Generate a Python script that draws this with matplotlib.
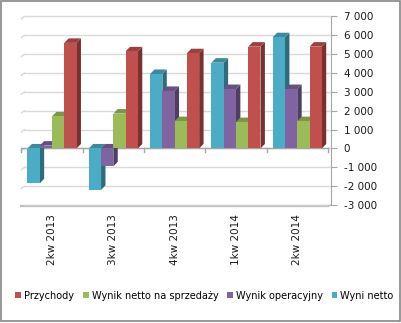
import numpy as np
import matplotlib.pyplot as plt
from matplotlib.patches import Polygon, Patch, Rectangle
from matplotlib.colors import to_rgb

# quarterly results
quarters = ["2kw 2013", "3kw 2013", "4kw 2013", "1kw 2014", "2kw 2014"]
wyni_netto = [-1850, -2200, 3950, 4550, 5900]
wynik_operacyjny = [150, -950, 3050, 3150, 3150]
wynik_sprzedazy = [1700, 1850, 1450, 1400, 1450]
przychody = [5600, 5150, 5050, 5400, 5400]

series = [
  ("Wyni netto", wyni_netto, "#4BACC6"),
  ("Wynik operacyjny", wynik_operacyjny, "#8064A2"),
  ("Wynik netto na sprzedaży", wynik_sprzedazy, "#9BBB59"),
  ("Przychody", przychody, "#C0504D"),
]
legend_order = ["Przychody", "Wynik netto na sprzedaży", "Wynik operacyjny", "Wyni netto"]

def shade(c, f):
  r, g, b = to_rgb(c)
  return (r * f, g * f, b * f)

plt.rcParams['font.family'] = ['DejaVu Sans']

fig = plt.figure(figsize=(4.01, 3.23), dpi=100)
ax = fig.add_axes([20 / 401, 1 - 208.8 / 323, 311 / 401, (208.8 - 14.6) / 323])

width = 0.2
dx = 0.072
dy = 240
x = np.arange(len(quarters))

z = 3
for i, (name, vals, col) in enumerate(series):
  pos = x - 0.4 + i * width
  bars = ax.bar(pos, vals, width=width, align="edge", color=col, linewidth=0, zorder=z + i)
  for b in bars:
    x0 = b.get_x()
    x1 = x0 + b.get_width()
    y0 = b.get_y()
    y1 = y0 + b.get_height()
    ytop = max(y0, y1)
    side = Polygon([(x1, y0), (x1 + dx, y0 + dy), (x1 + dx, y1 + dy), (x1, y1)],
                   closed=True, facecolor=shade(col, 0.62), linewidth=0, zorder=z + i - 0.5)
    top = Polygon([(x0, ytop), (x0 + dx, ytop + dy), (x1 + dx, ytop + dy), (x1, ytop)],
                  closed=True, facecolor=shade(col, 0.8), linewidth=0, zorder=z + i - 0.5)
    ax.add_patch(side)
    ax.add_patch(top)

ax.set_xlim(-0.522, 4.55)
ax.set_ylim(-3200, 7100)

# back wall gridlines
yt = np.arange(-3000, 7001, 1000)
for v in yt:
  if v == -3000:
    continue
  ax.plot([-0.45, 4.54], [v, v], color="#d9d9d9", lw=1, zorder=1)
  ax.plot([-0.5, -0.45], [v - 120, v], color="#d9d9d9", lw=1, zorder=1)

# floor at the bottom
ax.plot([-0.5, 4.5], [-3060, -3060], color="#bfbfbf", lw=1.6, zorder=1)
ax.plot([-0.45, 4.54], [-3000, -3000], color="#d0d0d0", lw=1, zorder=1)
ax.plot([4.5, 4.54], [-3060, -3000], color="#bfbfbf", lw=1, zorder=1)

# category axis line at zero
ax.plot([-0.5, 4.5], [0, 0], color="#a6a6a6", lw=1, zorder=2)
for b in np.arange(-0.5, 4.6, 1.0):
  ax.plot([b, b], [0, -200], color="#a6a6a6", lw=1, zorder=2)

for s in ["top", "left", "bottom"]:
  ax.spines[s].set_visible(False)
ax.spines["right"].set_bounds(-3000, 7000)
ax.spines["right"].set_color("#a6a6a6")
ax.yaxis.tick_right()
ax.set_yticks(yt)
ax.set_yticklabels([f"{v:,}".replace(",", " ") for v in yt])
ax.tick_params(axis="y", length=4, color="#a6a6a6", labelsize=7.5, pad=5, labelcolor="#1a1a1a")
ax.set_xticks(x)
ax.set_xticklabels(quarters, rotation=90, fontsize=7.5, color="#1a1a1a")
ax.tick_params(axis="x", length=0, pad=4)

colors = {name: col for name, vals, col in series}
handles = [Patch(facecolor=colors[n], edgecolor="none") for n in legend_order]
fig.legend(handles, legend_order, loc="center", bbox_to_anchor=(0.51, 0.085), ncol=4,
           frameon=False, fontsize=7, handlelength=0.6, handleheight=0.6,
           handletextpad=0.3, columnspacing=0.9, borderaxespad=0)

fig.patches.append(Rectangle((0.5 / 401, 2.5 / 323), 399.5 / 401, 320 / 323, transform=fig.transFigure,
                             fill=False, edgecolor="#868686", lw=1.2))

fig.savefig("out.png", dpi=100)
